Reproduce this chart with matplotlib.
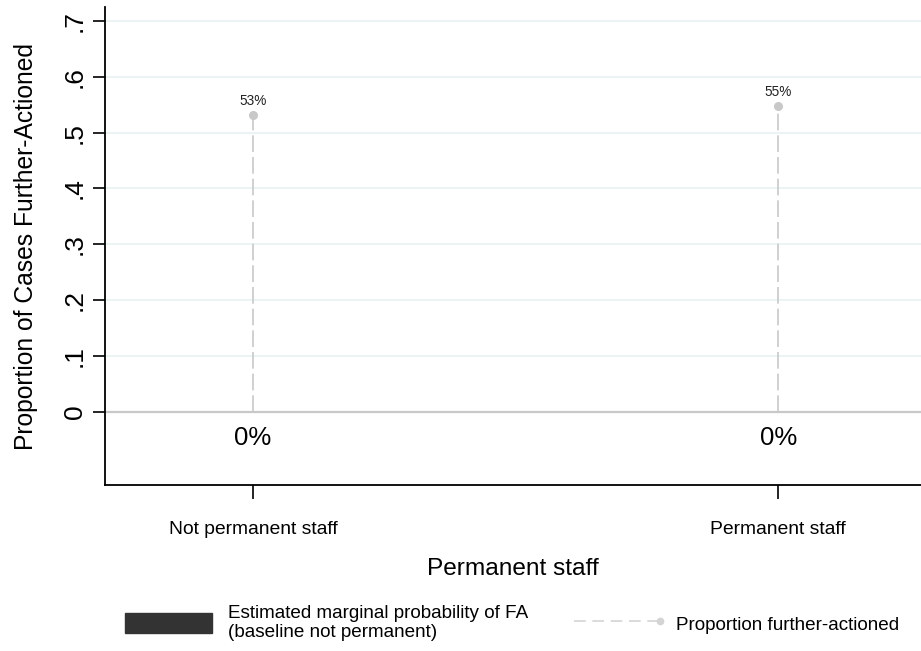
import matplotlib
matplotlib.use("Agg")
from matplotlib import pyplot as plt
from matplotlib.patches import Patch
from matplotlib.lines import Line2D
from matplotlib.legend_handler import HandlerLine2D

#--- data

categories = ['Not permanent staff', 'Permanent staff']
marginal = [0.0, 0.0]
marginal_labels = ['0%', '0%']
proportion = [0.531, 0.548]
proportion_labels = ['53%', '55%']
yticks = [0, 0.1, 0.2, 0.3, 0.4, 0.5, 0.6, 0.7]
yticklabels = ['0', '.1', '.2', '.3', '.4', '.5', '.6', '.7']

plt.rcParams['font.family'] = ['Liberation Sans', 'DejaVu Sans']

bar_col = '#333333'
line_col = '#c8c8c8'


class EndMarker(HandlerLine2D):
    # marker only at the right end of the legend line
    def create_artists(self, legend, orig_handle, xdescent, ydescent,
                       width, height, fontsize, trans):
        arts = super().create_artists(legend, orig_handle, xdescent, ydescent,
                                      width, height, fontsize, trans)
        for a in arts:
            a.set_markevery([len(a.get_xdata()) - 1])
        return arts


#--- plot

fig = plt.figure(figsize=(9.21, 6.51), dpi=100)
ax = fig.add_axes([105/921, 1-485/651, 1-105/921, (485-7)/651])

xs = list(range(len(categories)))
ax.bar(xs, marginal, width=0.5, color=bar_col, zorder=3)
for x, v, lab in zip(xs, marginal, marginal_labels):
    ax.annotate(lab, (x, v), xytext=(0, -19), textcoords='offset points',
                ha='center', va='center', fontsize=18.5, zorder=4)

for x, v, lab in zip(xs, proportion, proportion_labels):
    ax.plot([x, x], [0, v], color=line_col, lw=1.2, dashes=(10, 3), zorder=2)
    ax.plot([x], [v], 'o', color=line_col, ms=5.5, zorder=3)
    ax.annotate(lab, (x, v), xytext=(0, 10), textcoords='offset points',
                ha='center', va='center', fontsize=9.8, color='#222222')

ax.axhline(0, color='#c8c8c8', lw=1.6, zorder=1)

ax.set_xlim(-0.282, 1.272)
ax.set_ylim(-0.131, 0.725)
ax.set_yticks(yticks)
ax.set_yticklabels(yticklabels, rotation=90, va='center', fontsize=19)
ax.set_xticks(xs)
ax.set_xticklabels(categories, fontsize=13.9)
ax.tick_params(axis='x', length=10, width=1.2, pad=16)
ax.tick_params(axis='y', length=9, width=1.2, pad=4)
ax.grid(axis='y', color='#eaf2f3', lw=1.3, zorder=0)
ax.set_axisbelow(True)

for s in ['top', 'right']:
    ax.spines[s].set_visible(False)
for s in ['left', 'bottom']:
    ax.spines[s].set_linewidth(1.3)

ax.set_xlabel('Permanent staff', fontsize=17.6, labelpad=14)
ax.set_ylabel('Proportion of Cases Further-Actioned', fontsize=17.7, labelpad=18)

#--- legend

h1 = Patch(facecolor=bar_col, edgecolor=bar_col)
h2 = Line2D([0, 1], [0, 0], color='#d4d4d4', lw=1.2, dashes=(7, 4),
            marker='o', ms=4.5)
fig.legend([h1, h2],
           ['Estimated marginal probability of FA\n(baseline not permanent)',
            'Proportion further-actioned'],
           handler_map={h2: EndMarker(marker_pad=0)},
           loc='center left', bbox_to_anchor=(125/921, 1-623/651),
           ncol=2, frameon=False, fontsize=13.6, borderpad=0, borderaxespad=0,
           handlelength=4.6, handleheight=1.3, handletextpad=0.85,
           columnspacing=2.4, numpoints=2, labelspacing=0.2)

plt.savefig('out.png', dpi=100)
plt.close()
